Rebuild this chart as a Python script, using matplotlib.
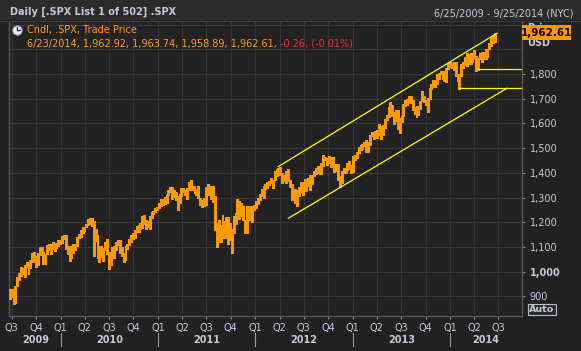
import matplotlib
matplotlib.use('Agg')
import matplotlib.pyplot as plt
import matplotlib.dates as mdates
import numpy as np
import pandas as pd
from matplotlib.patches import Rectangle
from matplotlib.lines import Line2D
from matplotlib.transforms import Bbox, TransformedBbox

# ---------------- data (weekly high / low of .SPX) ----------------
high_2009 = [930, 931, 898, 943, 980, 993, 1018, 1013, 1027, 1039, 1028, 1049, 1074, 1080,
             1065, 1076, 1101, 1101, 1081, 1072, 1106, 1113, 1112, 1119, 1110, 1117, 1127, 1130]
low_2009 = [888, 896, 869, 875, 940, 965, 983, 990, 978, 1017, 992, 1016, 1040, 1041,
            1019, 1025, 1066, 1074, 1033, 1030, 1070, 1086, 1073, 1091, 1085, 1094, 1102, 1114]
high_2010 = [1145, 1150, 1150, 1104, 1104, 1080, 1112, 1112, 1139, 1153, 1170, 1180, 1182,
             1194, 1214, 1218, 1219, 1205, 1173, 1150, 1104, 1105, 1094, 1120, 1131, 1081,
             1079, 1100, 1104, 1120, 1128, 1129, 1100, 1074, 1105, 1111, 1131, 1149, 1158,
             1167, 1184, 1190, 1196, 1227, 1228, 1208, 1206, 1225, 1241, 1247, 1259, 1263]
low_2010 = [1116, 1131, 1090, 1071, 1044, 1056, 1075, 1086, 1105, 1136, 1140, 1155, 1165,
            1181, 1190, 1192, 1183, 1065, 1125, 1055, 1040, 1060, 1043, 1088, 1070, 1011,
            1028, 1063, 1056, 1088, 1106, 1076, 1063, 1040, 1047, 1091, 1108, 1122, 1131,
            1138, 1160, 1159, 1172, 1178, 1194, 1173, 1182, 1174, 1218, 1233, 1241, 1251]
high_2011 = [1278, 1294, 1296, 1302, 1311, 1331, 1344, 1342, 1332, 1324, 1305, 1314, 1338,
             1340, 1329, 1338, 1364, 1370, 1346, 1346, 1334, 1345, 1299, 1292, 1298, 1341,
             1356, 1344, 1347, 1346, 1307, 1199, 1208, 1190, 1230, 1204, 1220, 1220, 1195,
             1171, 1225, 1239, 1293, 1285, 1277, 1267, 1208, 1266, 1267, 1254, 1265, 1269]
low_2011 = [1257, 1264, 1271, 1275, 1276, 1311, 1324, 1295, 1302, 1292, 1249, 1279, 1307,
            1324, 1309, 1294, 1331, 1329, 1330, 1318, 1312, 1297, 1268, 1262, 1265, 1268,
            1334, 1309, 1295, 1282, 1168, 1101, 1122, 1122, 1170, 1136, 1136, 1114, 1129,
            1075, 1157, 1191, 1221, 1215, 1226, 1208, 1158, 1158, 1231, 1209, 1203, 1248]
high_2012 = [1285, 1297, 1315, 1333, 1345, 1354, 1363, 1368, 1378, 1372, 1406, 1414, 1419,
             1422, 1399, 1392, 1406, 1415, 1370, 1354, 1329, 1335, 1329, 1344, 1364, 1363,
             1375, 1357, 1380, 1390, 1392, 1407, 1419, 1427, 1413, 1438, 1474, 1466, 1460,
             1470, 1464, 1464, 1434, 1434, 1434, 1388, 1409, 1419, 1420, 1439, 1448, 1430]
low_2012 = [1258, 1275, 1290, 1306, 1300, 1336, 1340, 1352, 1357, 1340, 1370, 1386, 1391,
            1392, 1357, 1365, 1358, 1367, 1343, 1292, 1295, 1277, 1267, 1306, 1324, 1309,
            1352, 1325, 1345, 1329, 1354, 1389, 1397, 1398, 1397, 1396, 1429, 1450, 1430,
            1440, 1425, 1426, 1403, 1406, 1373, 1343, 1359, 1398, 1398, 1410, 1414, 1398]
high_2013 = [1467, 1472, 1486, 1503, 1514, 1518, 1525, 1531, 1525, 1553, 1564, 1564, 1570,
             1573, 1597, 1589, 1592, 1618, 1635, 1667, 1687, 1674, 1646, 1654, 1654, 1620,
             1632, 1680, 1693, 1698, 1710, 1709, 1696, 1668, 1669, 1672, 1690, 1730, 1711,
             1696, 1703, 1745, 1760, 1775, 1774, 1799, 1805, 1813, 1811, 1809, 1823, 1844]
low_2013 = [1402, 1451, 1461, 1481, 1492, 1495, 1510, 1485, 1485, 1512, 1548, 1538, 1546,
            1539, 1552, 1536, 1555, 1581, 1613, 1627, 1636, 1630, 1598, 1608, 1577, 1560,
            1605, 1632, 1671, 1676, 1681, 1683, 1654, 1639, 1627, 1633, 1657, 1689, 1687,
            1674, 1646, 1700, 1740, 1747, 1747, 1760, 1780, 1799, 1779, 1772, 1767, 1819]
high_2014 = [1849, 1843, 1850, 1850, 1798, 1798, 1841, 1847, 1867, 1883, 1882, 1884, 1883,
             1897, 1873, 1865, 1884, 1891, 1889, 1902, 1901, 1924, 1950, 1955, 1964, 1964]
low_2014 = [1827, 1823, 1815, 1790, 1772, 1738, 1791, 1825, 1836, 1834, 1840, 1840, 1850,
            1863, 1814, 1816, 1859, 1850, 1859, 1862, 1868, 1901, 1915, 1925, 1930, 1959]

week_ends = list(pd.date_range('2009-06-26', '2014-06-20', freq='W-FRI')) + [pd.Timestamp('2014-06-23')]

# drawn trend lines: (start date, start value, end date, end value)
channel_upper = ('2012-03-27', 1425, '2014-06-26', 1965)
channel_lower = ('2012-05-04', 1216, '2014-08-02', 1742)
support_1 = ('2014-02-04', 1742)
support_2 = ('2014-04-14', 1819)

y_ticks = [900, 1000, 1100, 1200, 1300, 1400, 1500, 1600, 1700, 1800]
quarter_labels = ['Q3', 'Q4', 'Q1', 'Q2', 'Q3', 'Q4', 'Q1', 'Q2', 'Q3', 'Q4', 'Q1', 'Q2',
                  'Q3', 'Q4', 'Q1', 'Q2', 'Q3', 'Q4', 'Q1', 'Q2', 'Q3']
years = ['2009', '2010', '2011', '2012', '2013', '2014']
last_price = '1,962.61'
title_left = 'Daily [.SPX List 1 of 502] .SPX'
title_right = '6/25/2009 - 9/25/2014 (NYC)'
legend_1 = 'Cndl, .SPX, Trade Price'
legend_2a = '6/23/2014, 1,962.92, 1,963.74, 1,958.89, 1,962.61, '
legend_2b = '-0.26, (-0.01%)'

highs = np.array(high_2009 + high_2010 + high_2011 + high_2012 + high_2013 + high_2014, float)
lows = np.array(low_2009 + low_2010 + low_2011 + low_2012 + low_2013 + low_2014, float)
assert len(highs) == len(lows) == len(week_ends), (len(highs), len(lows), len(week_ends))

# ---------------- styling ----------------
W, H = 581, 351
BG = '#212121'
PLOT_BG = '#222222'
GRID = '#363636'
TXT = '#c3cbd9'
ORANGE = '#ff9900'
plt.rcParams['font.family'] = ['DejaVu Sans']

fig = plt.figure(figsize=(W / 100, H / 100), dpi=100)
fig.patch.set_facecolor(BG)

def fx(x):
    return x / W

def fy(y):
    return 1 - y / H

# header band
fig.add_artist(Rectangle((0, fy(20)), 1, 1 - fy(20), transform=fig.transFigure,
                         facecolor='#2b2b2b', edgecolor='none', zorder=0))
fig.add_artist(Line2D([0, 1], [fy(20.5), fy(20.5)], transform=fig.transFigure,
                      color='#3c3c3c', lw=0.8))

ax = fig.add_axes([fx(8.5), fy(316), fx(521.5) - fx(8.5), fy(21) - fy(316)])
ax.set_facecolor(PLOT_BG)

centers = [d - pd.Timedelta(days=2) for d in week_ends[:-1]] + [week_ends[-1]]
widths = [7.4] * (len(week_ends) - 1) + [2.0]
ax.bar(centers, highs - lows, bottom=lows, width=widths, color=ORANGE, edgecolor=ORANGE,
       linewidth=0.6, antialiased=False, zorder=3)

def tl(seg, **kw):
    ax.plot([pd.Timestamp(seg[0]), pd.Timestamp(seg[2])], [seg[1], seg[3]], **kw)

ycol = '#ffff00'
tl(channel_upper, color=ycol, lw=0.9, zorder=4)
tl(channel_lower, color=ycol, lw=0.9, zorder=4)
xmin = pd.Timestamp('2009-06-19')
xmax = pd.Timestamp('2014-09-26')
ax.plot([pd.Timestamp(support_1[0]), xmax], [support_1[1]] * 2, color=ycol, lw=0.9, zorder=4)
ax.plot([pd.Timestamp(support_2[0]), xmax], [support_2[1]] * 2, color=ycol, lw=0.9, zorder=4)

ax.set_xlim(xmin, xmax)
ax.set_ylim(820.6, 2014.5)

# y axis on the right
ax.yaxis.tick_right()
ax.set_yticks(y_ticks)
ax.set_yticklabels([f'{v:,}' for v in y_ticks])
ax.set_yticks([1900, 2000], minor=True)
ax.tick_params(axis='y', which='major', length=2.5, width=0.8, color='#8a8a8a',
               pad=3.5, labelsize=7, labelcolor=TXT)
ax.tick_params(axis='y', which='minor', length=0)
for lab, v in zip(ax.get_yticklabels(), y_ticks):
    if v == 1000:
        lab.set_fontweight('bold')

# x axis quarters
qdates = pd.date_range('2009-07-01', '2014-07-01', freq='QS')
ax.set_xticks(qdates)
ax.set_xticklabels(quarter_labels)
ax.tick_params(axis='x', length=2.5, width=0.8, color='#8a8a8a', pad=2.5,
               labelsize=7, labelcolor=TXT)

ax.grid(True, which='both', color=GRID, lw=0.8, zorder=0)
ax.set_axisbelow(True)
ax.spines['top'].set_visible(False)
for s in ['left', 'right', 'bottom']:
    ax.spines[s].set_color('#5a5a5a')
    ax.spines[s].set_linewidth(0.9)

# year labels and separators
x0n, x1n = mdates.date2num(xmin), mdates.date2num(xmax)
def dx(d):
    n = mdates.date2num(pd.Timestamp(d))
    return fx(8.5) + (n - x0n) / (x1n - x0n) * (fx(521.5) - fx(8.5))

starts = [pd.Timestamp('2009-07-01')] + [pd.Timestamp(f'{y}-01-01') for y in years[1:]]
ends = [pd.Timestamp(f'{y}-01-01') for y in years[1:]] + [xmax]
for y, s, e in zip(years, starts, ends):
    fig.text((dx(s) + dx(e)) / 2, fy(340), y, ha='center', va='center', fontsize=7,
             fontweight='bold', color=TXT)
for s in starts[1:]:
    fig.add_artist(Line2D([dx(s), dx(s)], [fy(333), fy(346)], transform=fig.transFigure,
                          color='#9a9a9a', lw=0.8))

# header texts
fig.text(fx(10), fy(12), title_left, ha='left', va='center', fontsize=7,
         fontweight='bold', color=TXT)
fig.text(fx(573), fy(13), title_right, ha='right', va='center', fontsize=7, color=TXT)

# legend clock icon
fig.add_artist(Line2D([fx(17)], [fy(30)], transform=fig.transFigure, marker='o',
                      markersize=6.8, markerfacecolor='#e6eef8', markeredgecolor='#8b9bb4',
                      markeredgewidth=0.7, linestyle='none', zorder=5))
fig.add_artist(Line2D([fx(17), fx(17)], [fy(30), fy(27.2)], transform=fig.transFigure,
                      color='#1a1a1a', lw=0.9, zorder=6))
fig.add_artist(Line2D([fx(17), fx(19.6)], [fy(30), fy(30)], transform=fig.transFigure,
                      color='#1a1a1a', lw=0.9, zorder=6))
fig.text(fx(27), fy(30.5), legend_1, ha='left', va='center', fontsize=7, color='#ff9c1a')
t2 = fig.text(fx(27), fy(43.5), legend_2a, ha='left', va='center', fontsize=7, color='#ff9c1a')
fig.canvas.draw()
bb = t2.get_window_extent()
fig.text(bb.x1 / W, fy(43.5), legend_2b, ha='left', va='center', fontsize=7, color='#ff2a2a')

# price box (the "Price" caption is mostly hidden behind it)
tp = fig.text(fx(527), fy(28), 'Price', ha='left', va='center', fontsize=7,
              fontweight='bold', color=TXT)
tp.set_clip_box(TransformedBbox(Bbox([[fx(522), fy(25.5)], [fx(578), fy(21)]]),
                                fig.transFigure))
tp.set_clip_on(True)
fig.add_artist(Rectangle((fx(522), fy(40)), fx(571) - fx(522), fy(25.5) - fy(40),
                         transform=fig.transFigure, facecolor=ORANGE, edgecolor='none',
                         zorder=5))
fig.text(fx(546.5), fy(33), last_price, ha='center', va='center', fontsize=7.5,
         fontweight='bold', color='#000000', zorder=6)
fig.text(fx(527), fy(43.5), 'USD', ha='left', va='center', fontsize=7, fontweight='bold',
         color=TXT)

# Auto button
fig.text(fx(542), fy(309.5), 'Auto', ha='center', va='center', fontsize=6.8,
         fontweight='bold', color=TXT,
         bbox=dict(boxstyle='square,pad=0.12', facecolor='#2a2a2a', edgecolor='#b8c0cc',
                   lw=0.8))

fig.savefig('out.png', dpi=100, facecolor=BG)
